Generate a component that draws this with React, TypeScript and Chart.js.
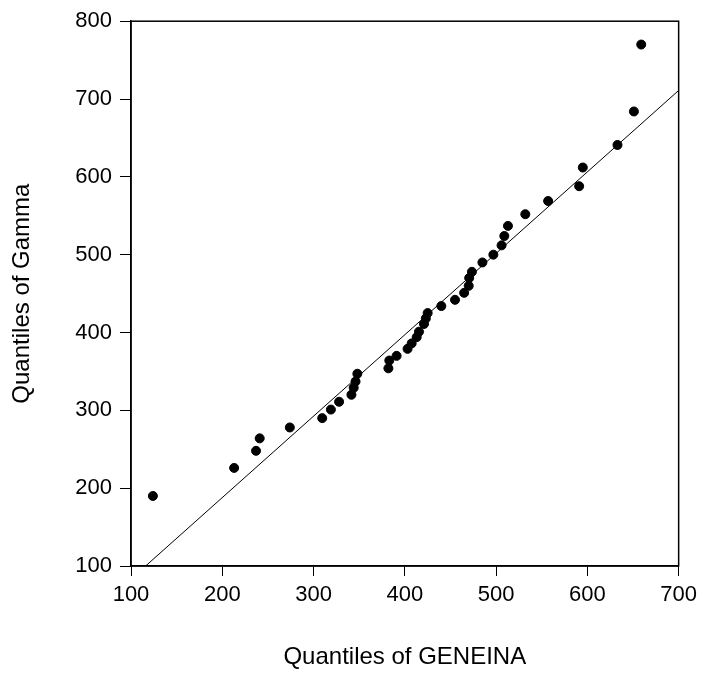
import React, { useEffect, useRef } from "react";
import { Chart, registerables } from "chart.js";

Chart.register(...registerables);

const geneinaQuantiles = [
  124, 213, 237, 241, 274, 309.5, 319, 328, 341.5, 344, 346, 348, 382, 383, 391, 403,
  407.5, 413, 415.5, 421, 423, 425, 440, 455, 465, 470, 470.5, 473.5, 485, 497, 506,
  509, 513, 532, 557, 591, 595, 633, 651, 659,
];
const gammaQuantiles = [
  190, 226, 248, 264, 278, 290, 301, 311, 320, 329, 337, 347, 354, 364, 370, 379, 386,
  394, 401, 411, 418, 425, 434, 442, 451, 460, 470, 478, 490, 500, 512, 524, 537, 552,
  569, 588, 612, 641, 684, 770,
];
const refLineX = [116, 700];
const refLineY = [100, 711];

const xTicks = [100, 200, 300, 400, 500, 600, 700];
const yTicks = [100, 200, 300, 400, 500, 600, 700, 800];

const FONT = "'Liberation Sans', Arial, Helvetica, sans-serif";

export default function App() {
  const ref = useRef<HTMLCanvasElement | null>(null);

  useEffect(() => {
    if (!ref.current) return;
    const framePlugin = {
      id: "frame",
      afterDatasetsDraw(chart: any) {
        const { ctx, chartArea } = chart;
        ctx.save();
        ctx.strokeStyle = "#000";
        ctx.lineWidth = 1.5;
        ctx.strokeRect(
          chartArea.left,
          chartArea.top,
          chartArea.right - chartArea.left,
          chartArea.bottom - chartArea.top
        );
        ctx.restore();
      },
    };
    const chart = new Chart(ref.current, {
      type: "scatter",
      data: {
        datasets: [
          {
            type: "scatter",
            data: geneinaQuantiles.map((x, i) => ({ x, y: gammaQuantiles[i] })),
            backgroundColor: "#000",
            borderColor: "#000",
            pointRadius: 4.5,
            pointHoverRadius: 4.5,
          },
          {
            type: "line",
            data: refLineX.map((x, i) => ({ x, y: refLineY[i] })),
            borderColor: "#000",
            borderWidth: 1,
            pointRadius: 0,
            fill: false,
          } as any,
        ],
      },
      options: {
        animation: false,
        responsive: true,
        maintainAspectRatio: false,
        layout: { padding: { top: 19, right: 23.5, left: 0, bottom: 0 } },
        plugins: { legend: { display: false }, tooltip: { enabled: false } },
        scales: {
          x: {
            type: "linear",
            min: 100,
            max: 700,
            afterBuildTicks: (s: any) => {
              s.ticks = xTicks.map((v) => ({ value: v }));
            },
            afterFit: (s: any) => {
              s.height = 110;
            },
            ticks: {
              color: "#000",
              font: { family: FONT, size: 22 },
              padding: 6,
              maxRotation: 0,
            },
            grid: {
              display: true,
              drawOnChartArea: false,
              drawTicks: true,
              tickLength: 10,
              color: "#000",
              lineWidth: 1,
            },
            border: { display: true, color: "#000", width: 1.5 },
            title: {
              display: true,
              text: "Quantiles of GENEINA",
              color: "#000",
              font: { family: FONT, size: 24 },
              padding: { top: 0, bottom: 4 },
            },
          },
          y: {
            type: "linear",
            min: 100,
            max: 800,
            afterBuildTicks: (s: any) => {
              s.ticks = yTicks.map((v) => ({ value: v }));
            },
            afterFit: (s: any) => {
              s.width = 131;
            },
            ticks: {
              color: "#000",
              font: { family: FONT, size: 22 },
              padding: 8,
            },
            grid: {
              display: true,
              drawOnChartArea: false,
              drawTicks: true,
              tickLength: 11,
              color: "#000",
              lineWidth: 1,
            },
            border: { display: true, color: "#000", width: 1.5 },
            title: {
              display: true,
              text: "Quantiles of Gamma",
              color: "#000",
              font: { family: FONT, size: 24 },
              padding: { top: 8, bottom: 0 },
            },
          },
        },
      },
      plugins: [framePlugin],
    });
    return () => chart.destroy();
  }, []);

  return (
    <div style={{ position: "absolute", left: 0, top: 0, width: 703, height: 676 }}>
      <canvas ref={ref} />
    </div>
  );
}
